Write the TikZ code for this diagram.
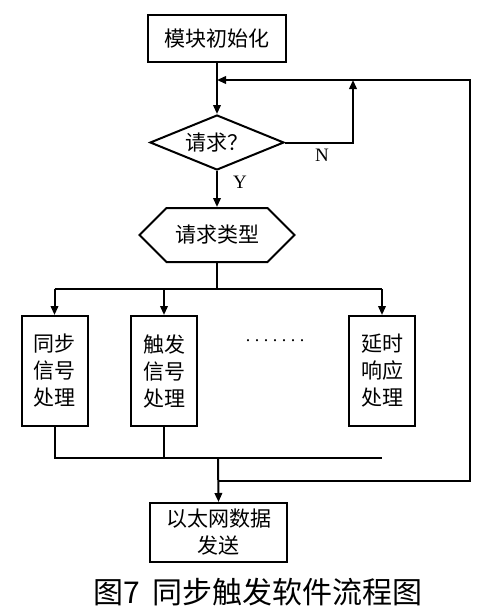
\documentclass[tikz,border=0pt]{standalone}
\usepackage{fontspec}
\newfontfamily\cjk{Noto Sans CJK SC}
\newfontfamily\latn{Liberation Serif}
\usetikzlibrary{shapes.geometric,shapes.symbols,arrows.meta}
\begin{document}
\begin{tikzpicture}[x=1pt,y=-1pt,
  line width=2pt,
  every node/.style={font=\cjk\fontsize{21}{27}\selectfont, inner sep=0pt},
  procbox/.style={draw, rectangle, align=center},
  arr/.style={-{Triangle[length=9pt,width=7.5pt]}},
  lbl/.style={font=\latn\fontsize{19}{20}\selectfont}
]
\useasboundingbox[fill=white] (0,0) rectangle (485,614);

\node[procbox, minimum width=138pt, minimum height=47pt] (init) at (217,38.5) {模块初始化};
\node[draw, diamond, aspect=2.44, minimum width=134pt, minimum height=55pt] (q) at (217,142.5) {请求？};
\node[draw, signal, signal to=west and east, signal pointer angle=90, minimum width=155pt, minimum height=54pt] (hex) at (217,235) {请求类型};

\node[procbox, minimum width=66pt, minimum height=110pt] (b1) at (54.5,371) {同步\\信号\\处理};
\node[procbox, minimum width=66pt, minimum height=110pt] (b2) at (164,371) {触发\\信号\\处理};
\node[procbox, minimum width=66pt, minimum height=110pt] (b3) at (382,371) {延时\\响应\\处理};
\node[font=\latn\fontsize{18}{20}\selectfont] (dots) at (275,341) {.\hspace{4.5pt}.\hspace{4.5pt}.\hspace{4.5pt}.\hspace{4.5pt}.\hspace{4.5pt}.\hspace{4.5pt}.};

\node[procbox, minimum width=137pt, minimum height=59pt] (send) at (218.5,532.5) {以太网数据\\发送};

\node[font=\cjk\fontsize{30}{32}\selectfont] (cap) at (258,592) {图7\hspace{0.4em}同步触发软件流程图};

\node[lbl] (nl) at (322,155) {N};
\node[lbl] (yl) at (240,182) {Y};

% coordinates
\coordinate (j1) at (217,80);
\coordinate (nr) at (353,142.5);
\coordinate (nt) at (353,80);
\coordinate (rt) at (470,80);
\coordinate (rb) at (470,481);
\coordinate (lb) at (218,481);
\coordinate (sp) at (217,289);
\coordinate (sl) at (54.5,289);
\coordinate (s2) at (164,289);
\coordinate (sr) at (382,289);
\coordinate (m1) at (54.5,458);
\coordinate (m2) at (164,458);
\coordinate (mc) at (218,458);
\coordinate (mr) at (382,458);

% connectors
\draw[arr] (init.south) -- (q.north);
\draw[arr] (q.east) -- (nr) -- (nt);
\draw[arr] (lb) -- (rb) -- (rt) -- (j1);
\draw[arr] (q.south) -- (hex.north);
\draw (hex.south) -- (sp);
\draw (sl) -- (sr);
\draw[arr] (sl) -- (b1.north);
\draw[arr] (s2) -- (b2.north);
\draw[arr] (sr) -- (b3.north);
\draw (b1.south) -- (m1) -- (mr);
\draw (b2.south) -- (m2);
\draw[arr] (mc) -- (send.north);
\end{tikzpicture}
\end{document}
